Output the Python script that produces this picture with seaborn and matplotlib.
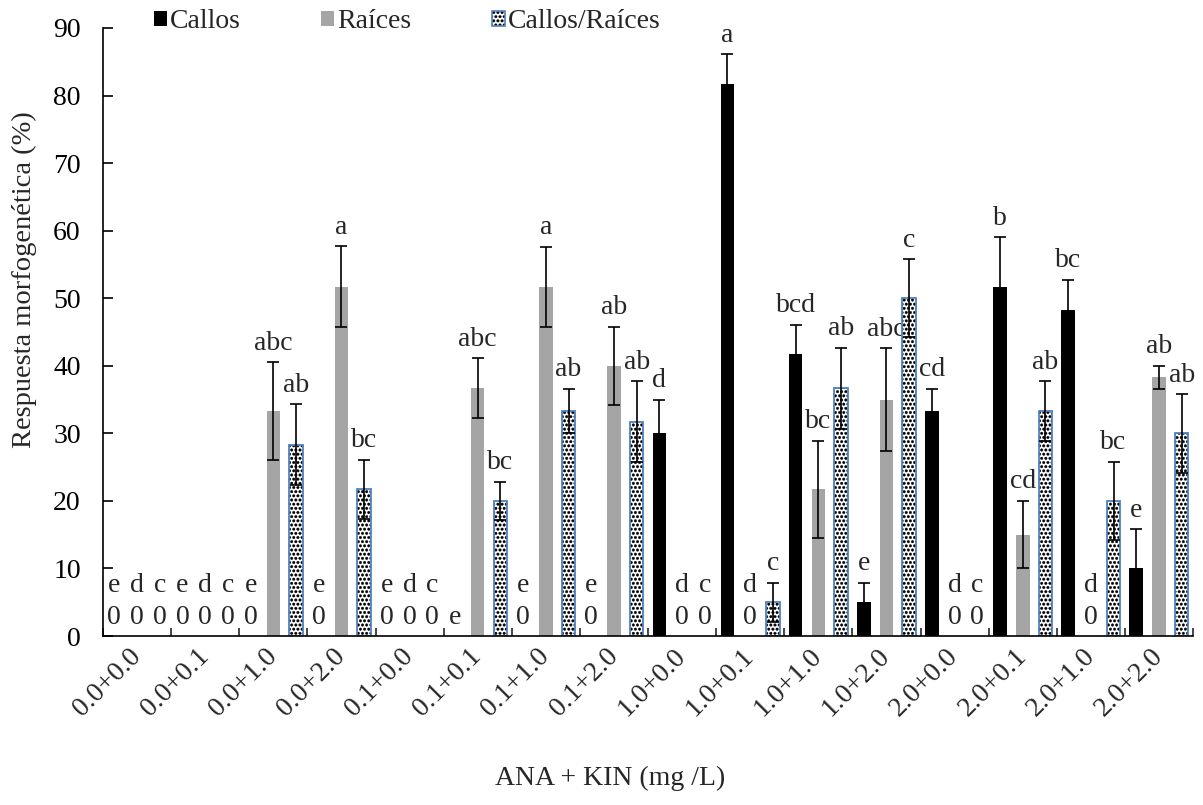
import numpy as np
import pandas as pd
import matplotlib
matplotlib.use("Agg")
import matplotlib.pyplot as plt
import matplotlib.hatch
from matplotlib.patches import Patch, Rectangle
from matplotlib.legend_handler import HandlerTuple
import seaborn as sns

# datos
tratamientos = ["0.0+0.0", "0.0+0.1", "0.0+1.0", "0.0+2.0",
                "0.1+0.0", "0.1+0.1", "0.1+1.0", "0.1+2.0",
                "1.0+0.0", "1.0+0.1", "1.0+1.0", "1.0+2.0",
                "2.0+0.0", "2.0+0.1", "2.0+1.0", "2.0+2.0"]
series = ["Callos", "Raíces", "Callos/Raíces"]

callos = [0, 0, 0, 0, 0, 0, 0, 0, 30, 81.7, 41.7, 5, 33.3, 51.7, 48.3, 10]
callos_err = [0, 0, 0, 0, 0, 0, 0, 0, 5, 4.4, 4.4, 2.9, 3.3, 7.3, 4.4, 5.8]
callos_let = ["e", "e", "e", "e", "e", "e", "e", "e",
              "d", "a", "bcd", "e", "cd", "b", "bc", "e"]

raices = [0, 0, 33.3, 51.7, 0, 36.7, 51.7, 40, 0, 0, 21.7, 35, 0, 15, 0, 38.3]
raices_err = [0, 0, 7.2, 6, 0, 4.4, 5.9, 5.8, 0, 0, 7.2, 7.6, 0, 5, 0, 1.7]
raices_let = ["d", "d", "abc", "a", "d", "abc", "a", "ab",
              "d", "d", "bc", "abc", "d", "cd", "d", "ab"]

mixto = [0, 0, 28.3, 21.7, 0, 20, 33.3, 31.7, 0, 5, 36.7, 50, 0, 33.3, 20, 30]
mixto_err = [0, 0, 6, 4.4, 0, 2.8, 3.3, 6, 0, 2.9, 6, 5.8, 0, 4.4, 5.8, 5.8]
mixto_let = ["c", "c", "ab", "bc", "c", "bc", "ab", "ab",
             "c", "c", "ab", "c", "c", "ab", "bc", "ab"]

# barras en cero que no llevan la etiqueta "0"
sin_cero = {(0, 5)}

colores = ["black", "#a5a5a5", "white"]
azul = "#4f81bd"

sns.set_style("white")
plt.rcParams["font.family"] = ["Liberation Serif", "DejaVu Serif"]
plt.rcParams["hatch.linewidth"] = 0.3
matplotlib.hatch.SmallFilledCircles.size = 0.3

df = pd.DataFrame({
    "trat": tratamientos * 3,
    "serie": np.repeat(series, len(tratamientos)),
    "valor": callos + raices + mixto,
})

fig = plt.figure(figsize=(12.03, 8.05), dpi=100)
ax = fig.add_axes([103 / 1203, 1 - 636 / 805, 1090 / 1203, 608 / 805])

sns.barplot(data=df, x="trat", y="valor", hue="serie", order=tratamientos,
            hue_order=series, palette=colores, saturation=1, width=1.0,
            gap=0.4, errorbar=None, linewidth=0, legend=False, ax=ax)

errores = [callos_err, raices_err, mixto_err]
letras = [callos_let, raices_let, mixto_let]
barras = list(ax.containers)

for k, cont in enumerate(barras):
    xs, hs = [], []
    for p in cont.patches:
        p.set_zorder(2)
        xs.append(p.get_x() + p.get_width() / 2)
        hs.append(p.get_height())
        if k == 2:
            p.set_hatch("....")
            p.set_edgecolor("black")
            p.set_linewidth(0)
            if p.get_height() > 0:
                ax.add_patch(Rectangle((p.get_x(), 0), p.get_width(), p.get_height(),
                                       fill=False, edgecolor=azul, lw=1.3, zorder=2.1))
    xs = np.array(xs)
    hs = np.array(hs)
    err = np.array(errores[k])
    m = err > 0
    ax.errorbar(xs[m], hs[m], yerr=err[m], fmt="none", ecolor="black",
                elinewidth=1.2, capsize=4.5, capthick=1.2, zorder=3)

    for i, (x, h) in enumerate(zip(xs, hs)):
        tope = h + err[i]
        if h == 0 and (k, i) not in sin_cero:
            ax.annotate("0", (x, 0), xytext=(0, 8.5), textcoords="offset points",
                        ha="center", va="baseline", fontsize=20, zorder=1.5)
            off = 31.5
        else:
            off = 9
        ax.annotate(letras[k][i], (x, tope), xytext=(0, off), textcoords="offset points",
                    ha="center", va="baseline", fontsize=20, zorder=1.5)

ax.set_ylim(0, 90)
ax.set_yticks(range(0, 91, 10))
ax.set_xlim(-0.5, len(tratamientos) - 0.5)
ax.set_xticks(np.arange(-0.5, len(tratamientos), 1), minor=True)

ax.tick_params(axis="y", direction="in", length=7, width=1.2, labelsize=20, pad=16,
               colors="black", left=True)
ax.tick_params(axis="x", which="minor", direction="in", length=6, width=1.2,
               bottom=True)
ax.tick_params(axis="x", which="major", length=0, labelsize=20, pad=12)
plt.setp(ax.get_xticklabels(), rotation=45, ha="right", va="center",
         rotation_mode="anchor")

for s in ["top", "right"]:
    ax.spines[s].set_visible(False)
for s in ["left", "bottom"]:
    ax.spines[s].set_color("black")
    ax.spines[s].set_linewidth(1.2)

ax.set_ylabel("Respuesta morfogenética (%)", fontsize=20.5)
ax.yaxis.set_label_coords(-0.0606, 0.586)
ax.set_xlabel("ANA + KIN (mg /L)", fontsize=20)
ax.xaxis.set_label_coords(0.465, -0.214)

# leyenda
h_callos = Patch(facecolor="black", edgecolor="none")
h_raices = Patch(facecolor="#a5a5a5", edgecolor="none")
h_mixto = (Patch(facecolor="white", edgecolor="black", hatch="....", lw=0),
           Patch(fill=False, edgecolor=azul, lw=1.2))
fig.legend([h_callos, h_raices, h_mixto], series,
           handler_map={tuple: HandlerTuple(ndivide=1, pad=0)},
           loc="center left", bbox_to_anchor=(154 / 1203, 1 - 22 / 805),
           ncol=3, frameon=False, fontsize=20, handlelength=0.47,
           handleheight=0.47, handletextpad=0.1, columnspacing=2.9,
           borderpad=0, borderaxespad=0)

fig.savefig("out.png", dpi=100)
